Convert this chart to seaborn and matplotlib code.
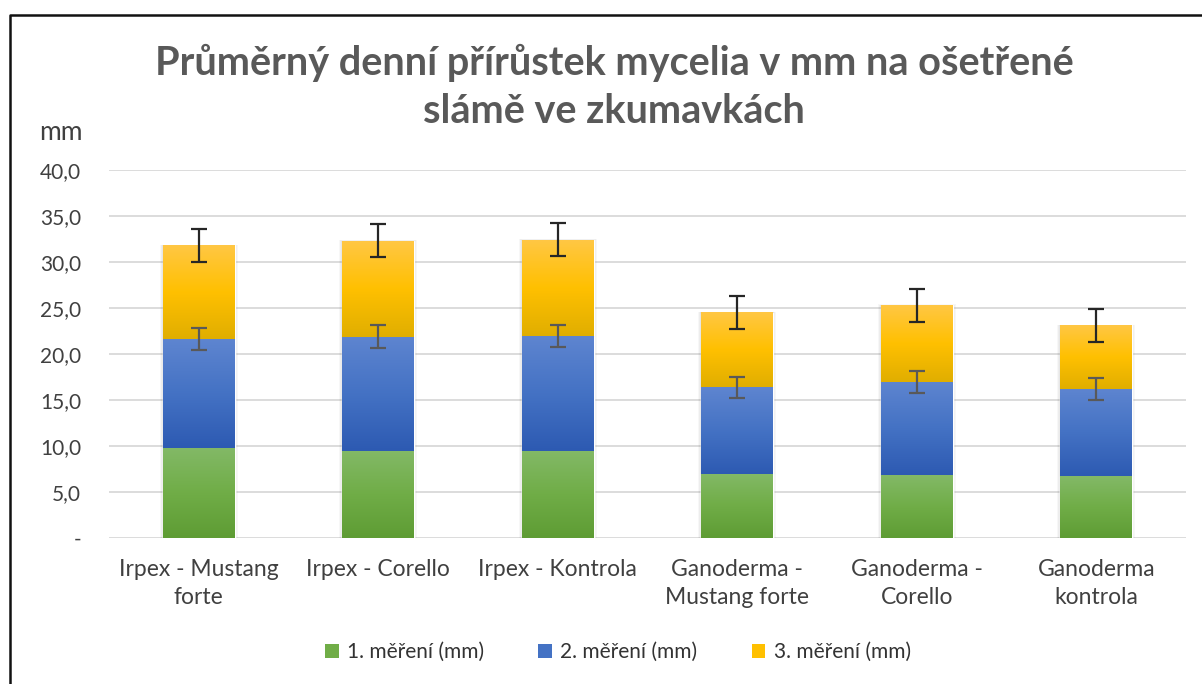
import numpy as np
import pandas as pd
import matplotlib
matplotlib.use("Agg")
import matplotlib.pyplot as plt
import seaborn as sns
from matplotlib.colors import LinearSegmentedColormap
from matplotlib.lines import Line2D
from matplotlib.patches import Patch

# ---------------- data ----------------
categories = ["Irpex - Mustang\nforte", "Irpex - Corello", "Irpex - Kontrola",
              "Ganoderma -\nMustang forte", "Ganoderma -\nCorello", "Ganoderma\nkontrola"]
mereni1 = [9.8, 9.5, 9.5, 7.0, 6.8, 6.7]
mereni2 = [11.8, 12.4, 12.5, 9.4, 10.2, 9.5]
mereni3 = [10.2, 10.4, 10.4, 8.1, 8.3, 6.9]
err2 = [1.2, 1.2, 1.2, 1.15, 1.2, 1.2]
err3 = [1.8, 1.8, 1.8, 1.8, 1.8, 1.8]
series_names = ["1. měření (mm)", "2. měření (mm)", "3. měření (mm)"]
y_ticks = [0, 5, 10, 15, 20, 25, 30, 35, 40]
y_tick_labels = ["-", "5,0", "10,0", "15,0", "20,0", "25,0", "30,0", "35,0", "40,0"]
title = "Průměrný denní přírůstek mycelia v mm na ošetřené\nslámě ve zkumavkách"

# ---------------- style ----------------
sns.set_theme(style="white")
plt.rcParams['font.family'] = ['Lato', 'DejaVu Sans']

W, H, DPI = 1202, 684, 100
fig = plt.figure(figsize=(W / DPI, H / DPI), dpi=DPI)
ax = fig.add_axes([109 / W, 1 - 538 / H, (1186 - 109) / W, (538 - 170) / H])

base_cols = ["#70ad47", "#4472c4", "#ffc000"]
grad_cols = [["#5e9c34", "#70ad47", "#83b967"],
             ["#2d5ab2", "#4472c4", "#5e85d0"],
             ["#e0ae00", "#ffc000", "#ffc744"]]

s1 = np.array(mereni1)
s2 = np.array(mereni2)
s3 = np.array(mereni3)
cum1 = s1
cum2 = s1 + s2
cum3 = s1 + s2 + s3
cums = [cum1, cum2, cum3]
bottoms = [np.zeros_like(cum1), cum1, cum2]

df = pd.DataFrame({"kat": categories, "c1": cum1, "c2": cum2, "c3": cum3})

# draw from tallest to shortest (stacked look)
for col, color, name in [("c3", base_cols[2], series_names[2]),
                         ("c2", base_cols[1], series_names[1]),
                         ("c1", base_cols[0], series_names[0])]:
    sns.barplot(data=df, x="kat", y=col, color=color, width=0.4, ax=ax,
                label=name, saturation=1, zorder=2)

# containers order: yellow, blue, green
cont_by_series = [ax.containers[2], ax.containers[1], ax.containers[0]]

# soft shadow + gradient fills
for si in range(3):
    cmap = LinearSegmentedColormap.from_list(f"g{si}", grad_cols[si])
    grad = np.linspace(0, 1, 256).reshape(-1, 1)
    for j, p in enumerate(cont_by_series[si].patches):
        x0 = p.get_x()
        w = p.get_width()
        ax.imshow(grad, extent=[x0, x0 + w, bottoms[si][j], cums[si][j]],
                  origin="lower", aspect="auto", cmap=cmap, zorder=3,
                  interpolation="bicubic")
        if si == 2:
            for k, a in enumerate([0.05, 0.04, 0.03]):
                d = 0.006 * (k + 1)
                ax.add_patch(plt.Rectangle((x0 - d, -0.05 * (k + 1)), w + 2 * d,
                                           cums[si][j] + 0.08 * (k + 1),
                                           color="#000000", alpha=a, lw=0, zorder=1.5))

xs = np.arange(len(categories))
ax.errorbar(xs, cum2, yerr=err2, fmt="none", ecolor="#595959", elinewidth=1.6,
            capsize=6, capthick=1.6, zorder=5)
ax.errorbar(xs, cum3, yerr=err3, fmt="none", ecolor="#262626", elinewidth=1.6,
            capsize=6, capthick=1.6, zorder=5)

ax.set_xlim(-0.5, len(categories) - 0.5)
ax.set_ylim(0, 40)
ax.set_yticks(y_ticks)
ax.set_yticklabels(y_tick_labels)
ax.yaxis.grid(True, color="#d9d9d9", lw=1.3)
ax.set_axisbelow(True)
for s in ax.spines.values():
    s.set_visible(False)
ax.tick_params(axis="y", length=0, pad=20, labelsize=15, labelcolor="#404040")
ax.tick_params(axis="x", length=0, pad=15, labelsize=16.5, labelcolor="#404040")
for t in ax.get_yticklabels():
    t.set_ha("right")
for t in ax.get_xticklabels():
    t.set_linespacing(1.4)
ax.set_xlabel("")
ax.set_ylabel("")
if ax.get_legend() is not None:
    ax.get_legend().remove()

fig.text(61 / W, 1 - 133 / H, "mm", ha="center", va="center", fontsize=19, color="#404040")
fig.text(614 / W, 1 - 87 / H, title, ha="center", va="center", fontsize=28.5,
         fontweight="bold", color="#595959", linespacing=1.38)

handles = [Patch(facecolor=base_cols[i], edgecolor="none") for i in range(3)]
fig.legend(handles, series_names, loc="center", bbox_to_anchor=(618 / W, 1 - 652 / H),
           ncol=3, frameon=False, fontsize=15, handlelength=0.65, handleheight=0.65,
           handletextpad=0.4, columnspacing=2.6, labelcolor="#333333")

# partial frame (left + top)
fig.add_artist(Line2D([10.5 / W, 10.5 / W, 1.0], [0.0, 1 - 14.5 / H, 1 - 14.5 / H],
                      transform=fig.transFigure, color="#111111", lw=1.8))

fig.savefig("out.png", dpi=DPI)
